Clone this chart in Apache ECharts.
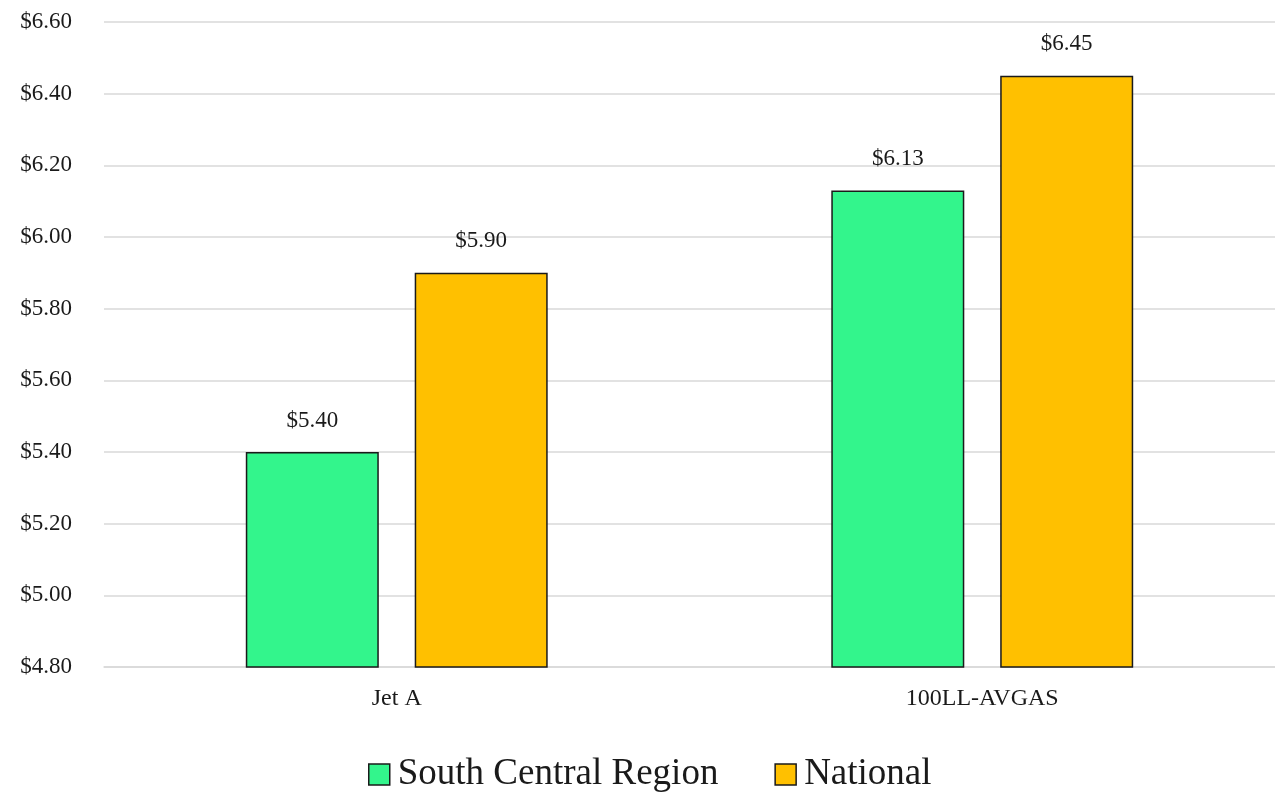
<!DOCTYPE html>
<html>
<head>
<meta charset="utf-8">
<script src="https://cdn.jsdelivr.net/npm/echarts@6/dist/echarts.min.js"></script>
<style>
  html, body { margin: 0; padding: 0; background: #fff; }
  #chart { width: 1275px; height: 792px; }
</style>
</head>
<body>
<div id="chart"></div>
<script>
const categories = ['Jet A', '100LL-AVGAS']
const seriesNames = ['South Central Region', 'National']
const southCentral = [5.40, 6.13]
const national = [5.90, 6.45]
const colors = ['#33F58C', '#FFC000']

const font = '"Liberation Serif", "DejaVu Serif", serif'
const money = v => '$' + Number(v).toFixed(2)

const chart = echarts.init(document.getElementById('chart'))

const makeSeries = (name, data, color) => ({
  name: name,
  type: 'bar',
  data: data,
  barWidth: 133,
  barGap: '27%',
  itemStyle: { color: color, borderColor: '#1a1a1a', borderWidth: 1.5 },
  label: {
    show: true,
    position: 'top',
    distance: 20,
    formatter: p => money(p.value),
    fontFamily: font,
    fontSize: 23,
    color: '#1a1a1a'
  }
})

chart.setOption({
  animation: false,
  color: colors,
  grid: { left: 104, right: 0, top: 22, bottom: 125 },
  legend: {
    top: 751,
    left: 363,
    padding: 5,
    itemWidth: 21,
    itemHeight: 21,
    itemGap: 56,
    icon: 'rect',
    itemStyle: { borderColor: '#1a1a1a', borderWidth: 1.5 },
    textStyle: { fontFamily: font, fontSize: 37, color: '#1a1a1a', padding: [0, 0, 0, 3] },
    data: seriesNames
  },
  xAxis: {
    type: 'category',
    data: categories,
    axisLine: { lineStyle: { color: '#D9D9D9', width: 1.5 } },
    axisTick: { show: false },
    axisLabel: { fontFamily: font, fontSize: 24, color: '#1a1a1a', margin: 20 }
  },
  yAxis: {
    type: 'value',
    min: 4.8,
    max: 6.6,
    interval: 0.2,
    axisLine: { show: false },
    axisTick: { show: false },
    splitLine: { lineStyle: { color: '#D9D9D9', width: 1.5 } },
    axisLabel: { fontFamily: font, fontSize: 23, color: '#1a1a1a', margin: 32, formatter: money }
  },
  series: [
    makeSeries(seriesNames[0], southCentral, colors[0]),
    makeSeries(seriesNames[1], national, colors[1])
  ]
})
</script>
</body>
</html>
